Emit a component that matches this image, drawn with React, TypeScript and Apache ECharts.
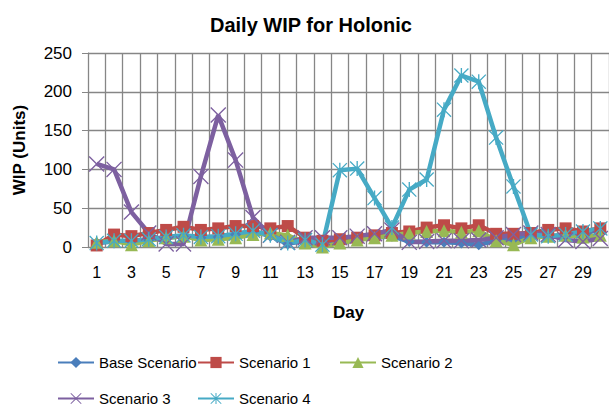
import React, { useEffect, useRef } from "react";
import * as echarts from "echarts";

const days = ["1","2","3","4","5","6","7","8","9","10","11","12","13","14","15","16","17","18","19","20","21","22","23","24","25","26","27","28","29","30"];
const baseScenario = [5,7,7,9,12,14,12,13,16,20,14,4,8,3,8,10,12,14,7,6,6,5,3,8,10,14,13,14,18,22];
const scenario1 = [2,16,14,18,22,26,22,24,27,27,24,27,12,8,10,12,15,18,20,25,28,24,28,17,17,18,22,24,20,24];
const scenario2 = [6,8,3,8,12,14,9,10,12,16,18,15,5,0,5,9,12,15,18,20,21,19,21,8,3,12,14,15,13,15];
const scenario3 = [107,100,45,18,4,4,91,170,112,38,15,6,12,12,12,14,17,22,6,7,8,8,9,12,16,18,16,9,7,11];
const scenario4 = [5,8,8,10,13,15,13,14,17,21,15,5,9,3,99,101,63,25,74,87,177,221,213,141,78,16,14,16,20,24];
const yTicks = { min: 0, max: 250, interval: 50 };

const X_PATH = "path://M0,0.6L0.6,0L5,4.4L9.4,0L10,0.6L5.6,5L10,9.4L9.4,10L5,5.6L0.6,10L0,9.4L4.4,5Z";
const STAR_PATH = "path://M0,0.6L0.6,0L5,4.4L9.4,0L10,0.6L5.6,5L10,9.4L9.4,10L5,5.6L0.6,10L0,9.4L4.4,5Z M4.55,0L5.45,0L5.45,10L4.55,10Z";

const FONT = "'Liberation Sans', Arial, sans-serif";

export default function App() {
  const ref = useRef<HTMLDivElement>(null);
  useEffect(() => {
    if (!ref.current) return;
    const chart = echarts.init(ref.current, undefined, { renderer: "svg" });
    const mk = (name: string, data: number[], color: string, symbol: string, size: number) => ({
      name,
      type: "line",
      data,
      symbol,
      symbolSize: size,
      showSymbol: true,
      showAllSymbol: true,
      lineStyle: { color, width: 4.5 },
      itemStyle: { color, borderWidth: 0 },
    });
    const legendBase = {
      itemWidth: 36,
      itemHeight: 14,
      itemGap: 4,
      padding: 0,
      textStyle: { fontFamily: FONT, fontSize: 15, color: "#000" },
    };
    chart.setOption({
      animation: false,
      backgroundColor: "#fff",
      title: {
        text: "Daily WIP for Holonic",
        left: 205,
        top: 10,
        textStyle: { fontFamily: FONT, fontSize: 20, fontWeight: "bold", color: "#000" },
      },
      legend: [
        { ...legendBase, left: 57, top: 355, data: ["Base Scenario"] },
        { ...legendBase, left: 197, top: 355, data: ["Scenario 1"] },
        { ...legendBase, left: 339, top: 355, data: ["Scenario 2"] },
        { ...legendBase, left: 57, top: 391, data: ["Scenario 3"] },
        { ...legendBase, left: 197, top: 391, data: ["Scenario 4"] },
      ],
      grid: { left: 88, top: 53, right: -10, bottom: 163, containLabel: false },
      xAxis: {
        type: "category",
        data: days,
        boundaryGap: true,
        name: "Day",
        nameLocation: "middle",
        nameGap: 57,
        nameTextStyle: { fontFamily: FONT, fontSize: 17, fontWeight: "bold", color: "#000" },
        axisLine: { lineStyle: { color: "#868686", width: 1 } },
        axisTick: { show: false },
        axisLabel: { interval: 1, margin: 17, fontFamily: FONT, fontSize: 16, color: "#000" },
        splitLine: { show: true, interval: 0, lineStyle: { color: "#868686", width: 1.3 } },
      },
      yAxis: {
        type: "value",
        min: yTicks.min,
        max: yTicks.max,
        interval: yTicks.interval,
        name: "WIP (Units)",
        nameLocation: "middle",
        nameGap: 60,
        nameRotate: 90,
        nameTextStyle: { fontFamily: FONT, fontSize: 17, fontWeight: "bold", color: "#000" },
        axisLine: { show: true, lineStyle: { color: "#868686", width: 1 } },
        axisTick: { show: true, length: 6, lineStyle: { color: "#868686" } },
        axisLabel: { margin: 16, fontFamily: FONT, fontSize: 17, color: "#000" },
        splitLine: { show: true, lineStyle: { color: "#868686", width: 1.3 } },
      },
      series: [
        mk("Base Scenario", baseScenario, "#4A7EBB", "diamond", 11),
        mk("Scenario 1", scenario1, "#BE4B48", "rect", 12),
        mk("Scenario 2", scenario2, "#98B954", "triangle", 13),
        mk("Scenario 3", scenario3, "#7D60A0", X_PATH, 16),
        mk("Scenario 4", scenario4, "#46AAC5", STAR_PATH, 15),
      ],
    });
    return () => chart.dispose();
  }, []);
  return <div ref={ref} style={{ width: 609, height: 410, position: "absolute", left: 0, top: 0 }} />;
}
